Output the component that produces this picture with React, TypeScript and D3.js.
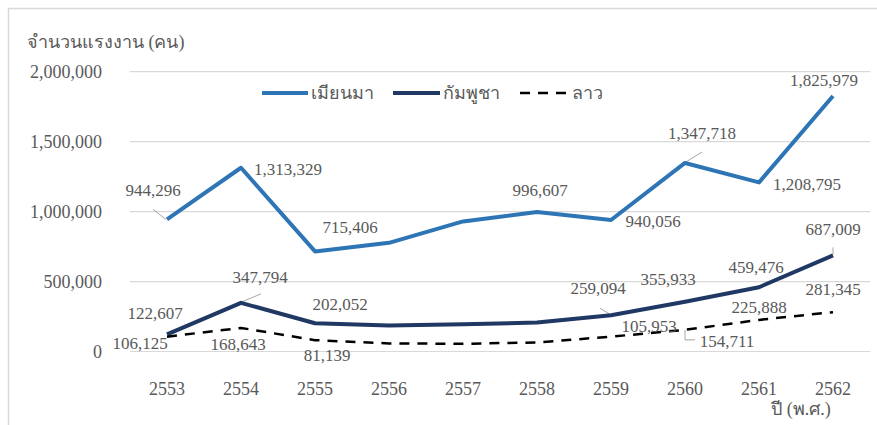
import React from "react";
import * as d3 from "d3";

const years = ["2553", "2554", "2555", "2556", "2557", "2558", "2559", "2560", "2561", "2562"];
const myanmar = [944296, 1313329, 715406, 777000, 930000, 996607, 940056, 1347718, 1208795, 1825979];
const cambodia = [122607, 347794, 202052, 185000, 195000, 207000, 259094, 355933, 459476, 687009];
const laos = [106125, 168643, 81139, 58000, 55000, 65000, 105953, 154711, 225888, 281345];
const yTicks = [0, 500000, 1000000, 1500000, 2000000];

const myanmarLabels: [number, number, number][] = [
  [0, -14, -29], [1, 47, 1], [2, 35, -24], [5, 3, -22], [6, 42, 1], [7, 17, -30], [8, 48, 2], [9, -9, -16],
];
const cambodiaLabels: [number, number, number][] = [
  [0, -12, -21], [1, 19, -26], [2, 25, -19], [6, -13, -27], [7, -17, -23], [8, -3, -20], [9, 0, -26],
];
const laosLabels: [number, number, number][] = [
  [0, -27, 6], [1, -3, 16], [2, 12, 15], [6, 38, -11], [7, 42, 11], [8, 0, -13], [9, 0, -23],
];

const W = 877;
const H = 425;
const fmt = d3.format(",");
const grey = "#595959";
const FAM = "Liberation Serif";

export default function App() {
  const x = d3.scalePoint<string>().domain(years).range([130, 870]).padding(0.5);
  const y = d3.scaleLinear().domain([0, 2000000]).range([351.5, 71.7]);
  const line = d3
    .line<number>()
    .x((_, i) => x(years[i]) as number)
    .y((d) => y(d));

  const series = [
    { data: myanmar, color: "#2E75B6", width: 4, dash: undefined as string | undefined, labels: myanmarLabels },
    { data: cambodia, color: "#1F3864", width: 4, dash: undefined, labels: cambodiaLabels },
    { data: laos, color: "#000000", width: 2.5, dash: "10,8", labels: laosLabels },
  ];

  const px = (i: number) => x(years[i]) as number;

  const leaders: string[] = [
    `M${px(0) - 14},${y(myanmar[0]) - 10}L${px(0) - 1},${y(myanmar[0])}`,
    `M${px(7) + 1},${y(myanmar[7]) - 1}L${px(7) + 17},${y(myanmar[7]) - 11}`,
    `M${px(1) + 1},${y(cambodia[1]) - 1}L${px(1) + 20},${y(cambodia[1]) - 9}`,
    `M${px(6) - 11},${y(cambodia[6]) - 7}L${px(6) - 1},${y(cambodia[6]) - 1}`,
    `M${px(9)},${y(cambodia[9]) - 8}L${px(9)},${y(cambodia[9]) - 1}`,
    `M${px(7)},${y(laos[7])}L${px(7)},${y(laos[7]) + 10}L${px(7) + 10},${y(laos[7]) + 10}`,
  ];

  const T = (props: any) => (
    <text fill={grey} {...props} style={{ fontFamily: `"${FAM}"` }} />
  );

  return (
    <svg width={W} height={H} style={{ display: "block", position: "absolute", left: 0, top: 0 }}>
      <style>{`text { font-family: "${FAM}", serif; }`}</style>
      <rect x={0} y={0} width={W} height={H} fill="#ffffff" />
      <path d={`M8.5,${H}V8.5H${W}`} fill="none" stroke="#d9d9d9" strokeWidth={1.5} />
      {yTicks.map((t) => (
        <g key={t}>
          <line x1={130} x2={870} y1={y(t)} y2={y(t)} stroke="#d9d9d9" strokeWidth={1.2} />
          <T x={102} y={y(t) + 6} textAnchor="end" fontSize={18}>
            {fmt(t)}
          </T>
        </g>
      ))}
      {years.map((yr) => (
        <T key={yr} x={x(yr)} y={395} textAnchor="middle" fontSize={18}>
          {yr}
        </T>
      ))}
      <T x={27} y={48} fontSize={18}>
        จำนวนแรงงาน (คน)
      </T>
      <T x={801} y={415} textAnchor="middle" fontSize={18}>
        ปี (พ.ศ.)
      </T>

      {leaders.map((d, i) => (
        <path key={i} d={d} fill="none" stroke="#a6a6a6" strokeWidth={1} />
      ))}

      {series.map((s, si) => (
        <path
          key={si}
          d={line(s.data) || ""}
          fill="none"
          stroke={s.color}
          strokeWidth={s.width}
          strokeDasharray={s.dash}
          strokeLinejoin="round"
        />
      ))}

      {series.map((s, si) =>
        s.labels.map(([i, dx, dy]) => (
          <T key={`${si}-${i}`} x={px(i) + dx} y={y(s.data[i]) + dy + 6} textAnchor="middle" fontSize={17}>
            {fmt(s.data[i])}
          </T>
        ))
      )}

      <line x1={262} x2={308} y1={93} y2={93} stroke="#2E75B6" strokeWidth={4} />
      <T x={311} y={99} fontSize={18}>เมียนมา</T>
      <line x1={393} x2={440} y1={93} y2={93} stroke="#1F3864" strokeWidth={4} />
      <T x={443} y={99} fontSize={18}>กัมพูชา</T>
      <line x1={520} x2={566} y1={93} y2={93} stroke="#000" strokeWidth={2.5} strokeDasharray="10,8" />
      <T x={572} y={99} fontSize={18}>ลาว</T>
    </svg>
  );
}
